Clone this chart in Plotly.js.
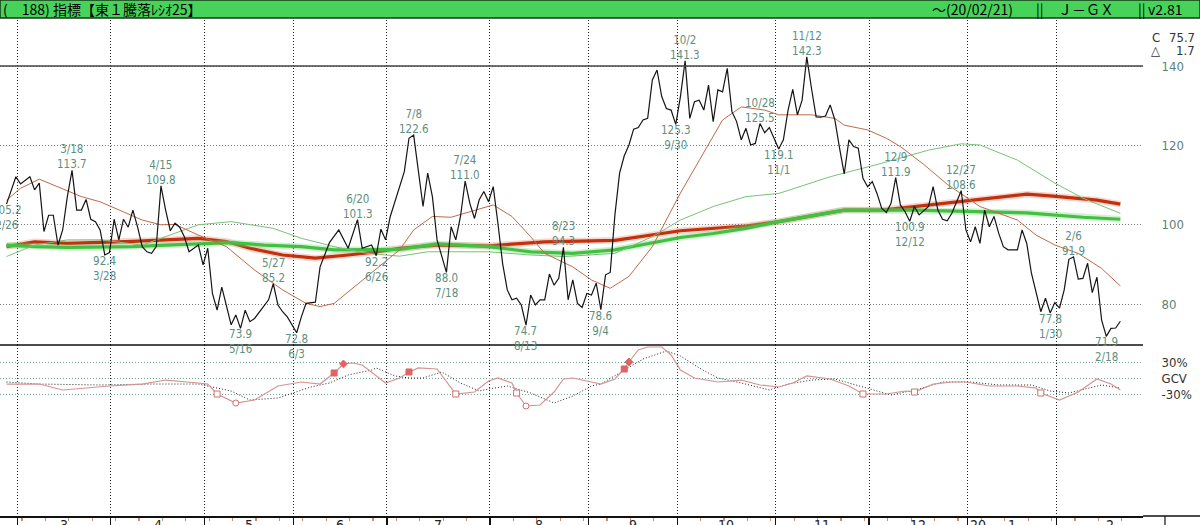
<!DOCTYPE html>
<html>
<head>
<meta charset="utf-8">
<script src="https://cdn.plot.ly/plotly-3.0.1.min.js"></script>
<style>
  html, body { margin: 0; padding: 0; background: #fff; }
  #chart { width: 1200px; height: 525px; }
</style>
</head>
<body>
<div id="chart"></div>
<script>
// x = trading-day index, 0 = 2019/02/26, 238 = 2020/02/21

// 騰落レシオ25 (black line)
const ratioIdx = [0,1,2,3,5,6,7,8,9,10,11,12,13,14,15,16,17,18,19,20,21,22,23,24,25,26,27,28,29,30,31,32,33,34,35,36,37,38,39,41,42,43,44,45,46,48,49,50,51,52,53,56,57,58,59,60,62,63,64,66,67,69,70,71,73,75,76,78,79,80,81,82,85,86,87,89,90,91,92,94,95,96,97,98,99,100,101,102,103,104,105,106,107,108,109,110,111,112,113,114,115,116,117,118,119,120,121,122,123,124,125,126,127,128,129,130,131,132,133,134,135,136,137,138,139,140,141,142,143,144,145,146,147,148,149,150,151,152,153,154,155,156,157,158,159,160,161,162,163,164,165,166,167,168,169,170,171,172,173,174,175,176,177,178,179,180,181,182,183,184,185,186,187,188,189,190,191,192,193,194,195,197,198,199,200,201,202,204,205,206,207,208,209,210,211,212,213,214,216,217,218,219,221,222,223,224,225,226,227,228,229,230,231,232,233,234,235,236,237,238];
const ratioVal = [105.2,108.8,112.1,110.3,112.1,108.8,110.5,98.3,102.4,102.4,94.9,98.7,107.1,113.7,103.7,103.7,106.4,101.4,100.8,98.7,92.4,93.0,101.4,96.2,101.4,99.4,103.7,99.5,94.5,93.2,92.8,94.5,109.8,103.7,98.5,100.4,99.4,97.0,93.2,94.9,89.9,94.1,82.7,78.5,84.3,74.8,77.3,73.9,78.5,75.6,76.4,81.1,85.2,79.8,78.1,76.8,72.8,76.8,80.2,80.5,89.4,95.5,97.2,98.7,94.1,101.3,94.1,94.9,92.2,98.9,96.2,102.1,113.4,121.8,122.6,104.6,113.0,107.1,96.2,88.0,99.5,96.2,102.1,111.0,105.4,101.6,106.3,108.4,105.8,109.6,100.4,90.3,83.6,81.1,81.5,79.8,74.7,82.3,79.8,81.1,81.1,87.6,84.8,86.5,94.3,81.1,86.1,80.2,79.2,82.7,82.3,85.3,78.6,87.4,88.0,102.5,113.0,117.4,120.1,124.1,124.5,126.4,126.8,136.5,139.0,132.3,129.3,128.9,125.3,132.3,141.3,126.8,131.0,131.4,128.9,135.2,126.0,134.0,133.5,139.4,128.5,126.0,121.4,124.3,120.1,120.5,125.5,123.2,124.5,121.8,119.1,121.4,128.9,134.1,127.7,131.4,142.3,134.4,127.2,127.1,127.4,130.2,126.4,119.3,112.8,121.4,119.7,119.3,111.7,109.6,110.9,107.9,104.2,103.1,105.4,111.9,105.0,103.3,100.9,104.6,102.5,104.6,109.6,103.7,101.4,101.0,102.9,108.6,98.7,95.7,99.5,95.3,103.7,99.5,102.1,97.9,94.5,93.7,93.7,98.7,95.3,87.8,78.1,81.5,77.8,80.4,79.0,83.6,91.3,91.9,86.3,86.5,90.3,82.9,86.8,76.0,71.9,73.9,74.0,75.7];

// short average (thin brown)
const maShortIdx = [0,3,7,11,16,20,24,29,33,36,41,47,53,59,64,67,70,77,84,87,91,95,100,104,108,112,115,121,125,129,133,138,144,148,153,157,162,165,172,177,179,184,188,191,196,201,208,216,220,224,229,234,238];
const maShortVal = [106.2,109.2,111.5,109.6,107.1,105.8,103.7,101.2,100.0,100.1,97.4,94.5,88.6,83.6,80.2,79.4,80.2,86.9,93.7,98.7,102.1,101.9,103.7,105.0,102.1,97.0,92.8,89.4,86.1,84.0,87.0,94.5,108.0,116.3,126.4,129.7,128.9,127.7,127.7,126.8,125.1,123.9,121.8,119.7,115.2,110.2,104.6,101.2,97.4,94.9,92.8,89.0,84.6];

// middle average (thin light green)
const maMidIdx = [0,6,13,20,29,34,41,48,57,63,70,77,84,90,103,112,119,130,138,144,151,158,165,176,187,197,204,208,216,224,230,238];
const maMidVal = [92.0,94.9,96.2,96.2,94.9,97.0,100.0,100.8,99.1,96.6,94.5,92.8,92.1,93.2,93.2,92.4,92.0,92.8,97.0,101.2,104.6,107.1,107.9,112.1,115.5,118.8,120.4,120.1,116.3,110.5,106.7,102.9];

// long averages (thick red, thick green)
const maRedIdx = [0,6,13,20,27,34,41,47,52,59,66,73,79,84,92,103,115,130,144,158,165,179,187,194,208,218,223,233,238];
const maRedVal = [94.5,95.7,95.3,95.5,95.8,96.2,96.6,95.8,94.1,92.4,91.6,92.4,93.2,94.1,94.9,94.7,95.7,96.1,98.5,99.7,100.8,103.7,103.7,104.6,106.5,107.7,107.3,106.2,105.2];
const maGreenIdx = [0,6,13,20,27,34,41,48,55,63,70,77,84,92,103,112,121,130,137,144,151,158,165,179,194,208,218,230,238];
const maGreenVal = [94.9,94.5,94.3,94.3,94.5,94.9,95.3,95.5,94.9,94.5,93.7,93.7,93.8,95.2,94.5,93.2,92.8,93.7,95.3,96.8,97.8,99.1,100.8,103.7,103.7,103.3,103.0,101.9,101.4];

// GCV panel (%)
const gcvIdx = [0,7,12,22,29,34,41,43,45,49,53,58,63,67,70,72,74,76,81,84,86,88,92,96,100,103,105,108,109,111,114,117,119,121,125,127,130,132,133,135,137,140,142,144,147,152,157,161,165,168,171,176,180,183,188,192,194,198,202,205,210,216,220,221,225,229,233,236,238];
const gcvVal = [-11.3,-11.3,-22.5,-15,-11.3,-3.8,-9.4,-11.3,-30,-46.9,-41.3,-15,-7.5,-11.3,9.4,26.3,28.1,24.4,-9.4,0,11.3,18.8,16.9,-30,-26.3,-5.6,0,-9.4,-28.1,-52.5,-50.6,-26.3,-1.9,0,-7.5,-11.3,-1.9,16.9,30,52.5,58.1,58.1,43.1,15,0,-7.5,-3.8,-13.1,-16.9,-9.4,3.8,-1.9,-15,-30,-30,-24.4,-26.3,-11.3,-7.5,-7.5,-15,-15,-18.8,-28.1,-41.3,-26.3,-1.9,-11.3,-22.5];
const gcvSigIdx = [0,7,20,31,41,48,52,58,65,69,73,78,79,83,86,89,93,97,101,103,107,112,117,121,125,127,131,136,141,144,148,152,157,163,167,172,177,182,189,195,200,206,212,219,223,227,234,238];
const gcvSigVal = [-7.5,-11.3,-13.1,-11.3,-11.3,-24.4,-41.3,-37.5,-16.9,-9.4,5.6,15,18.8,3.8,0,0,11.3,-9.4,-24.4,-20.6,-15,-28.1,-46.9,-33.8,-15,-11.3,9.4,35.6,50.6,41.3,18.8,0,-9.4,-22.5,-11.3,-3.8,-1.9,-15,-31.9,-20.6,-7.5,-7.5,-13.1,-13.1,-24.4,-28.1,-13.1,-18.8];
const buyIdx = [70,86,132];
const buyVal = [9.4,11.3,16.9];
const buyStrongIdx = [72,133];
const buyStrongVal = [26.3,30];
const sellIdx = [45,96,109,183,194,221];
const sellVal = [-30,-30,-28.1,-30,-26.3,-28.1];
const sellStrongIdx = [49,111];
const sellStrongVal = [-46.9,-52.5];

// peak / trough labels
const hiIdx  = [14,33,57,75,87,98,119,145,161,171,190,204,228];
const hiDate = ['3/18','4/15','5/27','6/20','7/8','7/24','8/23','10/2','10/28','11/12','12/9','12/27','2/6'];
const hiVal  = [113.7,109.8,85.2,101.3,122.6,111.0,94.3,141.3,125.5,142.3,111.9,108.6,91.9];
const loIdx  = [0,21,50,62,79,94,111,127,143,165,193,223,235];
const loDate = ['2/26','3/28','5/16','6/3','6/26','7/18','8/13','9/4','9/30','11/1','12/12','1/30','2/18'];
const loVal  = [105.2,92.4,73.9,72.8,92.2,88.0,74.7,78.6,125.3,119.1,100.9,77.8,71.9];

// months: first trading-day index of each month
const monthStart = [3,23,43,62,82,104,125,144,165,185,206,225,248];
const monthName  = ['3','4','5','6','7','8','9','10','11','12','1','2'];

const NARROW = '"Liberation Sans Narrow", "DejaVu Sans Condensed", sans-serif';
const labelFont = {family: NARROW, size: 11.5, color: '#5d8f80'};

const line = (x, y, color, width, yaxis, dash) => ({
    x: x, y: y, type: 'scatter', mode: 'lines', yaxis: yaxis || 'y',
    line: {color: color, width: width, dash: dash || 'solid'}, hoverinfo: 'skip'
});
const marks = (x, y, symbol, fill, edge) => ({
    x: x, y: y, type: 'scatter', mode: 'markers', yaxis: 'y2',
    marker: {symbol: symbol, size: 6, color: fill, line: {color: edge, width: 1}}, hoverinfo: 'skip'
});

const data = [
    line(maRedIdx, maRedVal, 'rgba(225,120,90,0.3)', 6.5),
    line(maRedIdx, maRedVal, '#c2300e', 3.2),
    line(maGreenIdx, maGreenVal, 'rgba(120,215,120,0.35)', 6.5),
    line(maGreenIdx, maGreenVal, '#42c042', 3.2),
    line(maMidIdx, maMidVal, '#78c278', 1),
    line(maShortIdx, maShortVal, '#bf6a48', 1),
    line(ratioIdx, ratioVal, '#151515', 1.2),
    line(gcvSigIdx, gcvSigVal, '#222', 1, 'y2', '1px,2px'),
    line(gcvIdx, gcvVal, '#d49494', 1.2, 'y2'),
    marks(buyIdx, buyVal, 'square', '#e06464', '#e06464'),
    marks(buyStrongIdx, buyStrongVal, 'diamond', '#e06464', '#e06464'),
    marks(sellIdx, sellVal, 'square', '#fff', '#d07070'),
    marks(sellStrongIdx, sellStrongVal, 'circle', '#fff', '#d07070')
];

// layout geometry (pixels)
const PLOT_W = 1143, PLOT_H = 496, SPLIT = 345 - 20;
const split = 1 - SPLIT / PLOT_H;
const px = (v) => v / PLOT_W;
const py = (v) => 1 - (v - 20) / PLOT_H;

const annotations = [];
hiIdx.forEach((i, k) => {
    annotations.push({x: i, y: hiVal[k], xref: 'x', yref: 'y', showarrow: false, font: labelFont,
        yanchor: 'bottom', yshift: -2, borderpad: 0, text: hiDate[k] + '<br>' + hiVal[k].toFixed(1)});
});
loIdx.forEach((i, k) => {
    annotations.push({x: i, y: loVal[k], xref: 'x', yref: 'y', showarrow: false, font: labelFont,
        yanchor: 'top', yshift: 2, borderpad: 0, text: loVal[k].toFixed(1) + '<br>' + loDate[k]});
});
monthName.forEach((m, k) => {
    annotations.push({
        x: (monthStart[k] + monthStart[k + 1]) / 2 - 0.7, y: 0, xref: 'x', yref: 'paper',
        yanchor: 'top', yshift: 1, showarrow: false, text: m,
        font: {family: NARROW, size: 14, color: '#222'}
    });
});
annotations.push({x: monthStart[10] - 0.5, y: 0, xref: 'x', yref: 'paper', xanchor: 'left', yanchor: 'top',
    yshift: 1, showarrow: false, text: '20', font: {family: NARROW, size: 14, color: '#222'}});

// header bar text
const head = {family: '"Noto Sans CJK JP", sans-serif', size: 14, color: '#000'};
const headY = py(9);
const headText = (x, text) => ({x: px(x), y: headY, xref: 'paper', yref: 'paper', xanchor: 'left',
    yanchor: 'middle', showarrow: false, text: text, font: head});
annotations.push(headText(1, '(　188) 指標【東１騰落ﾚｼｵ25】'));
annotations.push(headText(930, '～(20/02/21)'));
annotations.push(headText(1034, '||'));
annotations.push(headText(1056, 'Ｊ－ＧＸ'));
annotations.push(headText(1136, '||'));
annotations.push(headText(1146, 'v2.81'));

// last value box, top right
const valFont = {family: NARROW, size: 13, color: '#333'};
annotations.push({x: px(1150), y: py(28), xref: 'paper', yref: 'paper', xanchor: 'left', showarrow: false, text: 'C', font: valFont});
annotations.push({x: px(1197), y: py(28), xref: 'paper', yref: 'paper', xanchor: 'right', showarrow: false, text: '75.7', font: valFont});
annotations.push({x: px(1149), y: py(41), xref: 'paper', yref: 'paper', xanchor: 'left', showarrow: false, text: '△', font: valFont});
annotations.push({x: px(1197), y: py(41), xref: 'paper', yref: 'paper', xanchor: 'right', showarrow: false, text: '1.7', font: valFont});

const shapes = [
    {type: 'rect', xref: 'paper', yref: 'paper', x0: 0, x1: px(1200), y0: py(18), y1: py(0),
     fillcolor: '#47d35a', line: {color: '#143a14', width: 1.5}, layer: 'above'},
    {type: 'line', xref: 'paper', yref: 'y', x0: 0, x1: 1, y0: 140, y1: 140, line: {color: '#444', width: 1.5}},
    {type: 'line', xref: 'paper', yref: 'paper', x0: 0, x1: 1, y0: split, y1: split, line: {color: '#111', width: 1.5}},
    {type: 'line', xref: 'paper', yref: 'paper', x0: 1, x1: px(1200), y0: 0, y1: 0, line: {color: '#111', width: 1.5}},
    {type: 'line', xref: 'paper', yref: 'paper', x0: px(1165), x1: px(1165), y0: 0, y1: -12 / PLOT_H, line: {color: '#111', width: 1.2}}
];

const layout = {
    width: 1200, height: 525,
    margin: {l: 0, r: 57, t: 20, b: 9},
    paper_bgcolor: '#fff', plot_bgcolor: '#fff',
    showlegend: false,
    font: {family: NARROW, size: 13, color: '#333'},
    xaxis: {
        range: [-1.39, 242.84], anchor: 'y2', fixedrange: true, zeroline: false,
        tickvals: monthStart.slice(0, 12).map(s => s - 0.7), showticklabels: false,
        ticks: 'outside', ticklen: 12, tickcolor: '#111', tickwidth: 1.2,
        showgrid: true, gridcolor: '#222', griddash: '1px,2px', gridwidth: 1,
        showline: true, linecolor: '#111', linewidth: 1.5,
        minor: {tick0: 3.3, dtick: 5, ticks: 'outside', ticklen: 3, tickcolor: '#c8906a', showgrid: false}
    },
    yaxis: {
        domain: [split, 1], range: [69.72, 151.59], side: 'right', fixedrange: true, zeroline: false,
        tickvals: [80, 100, 120, 140], ticks: 'outside', ticklen: 15, tickcolor: 'rgba(0,0,0,0)',
        showgrid: true, gridcolor: '#7a7a7a', griddash: '1px,2px', gridwidth: 1,
        tickfont: {family: NARROW, size: 13, color: '#5f7f76'}
    },
    yaxis2: {
        domain: [0, split], range: [-258.75, 61.875], side: 'right', fixedrange: true, zeroline: false,
        tickvals: [-30, 0, 30], ticktext: ['-30%', 'GCV', '30%'],
        ticks: 'outside', ticklen: 15, tickcolor: 'rgba(0,0,0,0)',
        showgrid: true, gridcolor: '#6fa596', griddash: '1px,2px', gridwidth: 1,
        tickfont: {family: NARROW, size: 13, color: '#333'}
    },
    annotations: annotations,
    shapes: shapes
};

Plotly.newPlot('chart', data, layout, {displayModeBar: false, staticPlot: true});
</script>
</body>
</html>
